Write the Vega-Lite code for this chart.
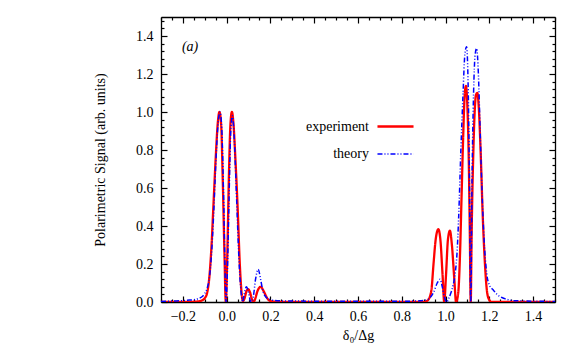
{
  "$schema": "https://vega.github.io/schema/vega-lite/v6.json",
  "width": 394,
  "height": 285,
  "autosize": {"type": "none"},
  "padding": {"left": 161, "top": 17, "right": 26, "bottom": 47},
  "background": "white",
  "config": {
    "view": {"stroke": null},
    "font": "Liberation Serif, Times New Roman, serif",
    "axis": {"domainColor": "black", "domainWidth": 1.3, "tickColor": "black", "tickWidth": 1.2, "labelColor": "black", "titleColor": "black", "labelFont": "Liberation Serif, Times New Roman, serif", "titleFont": "Liberation Serif, Times New Roman, serif", "labelFontSize": 14, "titleFontSize": 14, "titleFontWeight": "normal", "grid": false}
  },
  "resolve": {"axis": {"x": "independent", "y": "independent"}},
  "layer": [
    {
      "data": {"values": [
        {"x": -0.30, "y": 0.0, "series": "experiment"},
        {"x": -0.20, "y": 0.0, "series": "experiment"},
        {"x": -0.13, "y": 0.003, "series": "experiment"},
        {"x": -0.11, "y": 0.01, "series": "experiment"},
        {"x": -0.10, "y": 0.02, "series": "experiment"},
        {"x": -0.09, "y": 0.045, "series": "experiment"},
        {"x": -0.08, "y": 0.12, "series": "experiment"},
        {"x": -0.07, "y": 0.28, "series": "experiment"},
        {"x": -0.06, "y": 0.52, "series": "experiment"},
        {"x": -0.05, "y": 0.76, "series": "experiment"},
        {"x": -0.04, "y": 0.95, "series": "experiment"},
        {"x": -0.033, "y": 1.0, "series": "experiment"},
        {"x": -0.025, "y": 0.93, "series": "experiment"},
        {"x": -0.018, "y": 0.65, "series": "experiment"},
        {"x": -0.01, "y": 0.25, "series": "experiment"},
        {"x": -0.004, "y": 0.0, "series": "experiment"},
        {"x": 0.003, "y": 0.25, "series": "experiment"},
        {"x": 0.01, "y": 0.65, "series": "experiment"},
        {"x": 0.017, "y": 0.93, "series": "experiment"},
        {"x": 0.024, "y": 1.0, "series": "experiment"},
        {"x": 0.031, "y": 0.94, "series": "experiment"},
        {"x": 0.04, "y": 0.75, "series": "experiment"},
        {"x": 0.05, "y": 0.5, "series": "experiment"},
        {"x": 0.06, "y": 0.2, "series": "experiment"},
        {"x": 0.068, "y": 0.05, "series": "experiment"},
        {"x": 0.075, "y": 0.005, "series": "experiment"},
        {"x": 0.082, "y": 0.02, "series": "experiment"},
        {"x": 0.09, "y": 0.055, "series": "experiment"},
        {"x": 0.098, "y": 0.067, "series": "experiment"},
        {"x": 0.107, "y": 0.05, "series": "experiment"},
        {"x": 0.115, "y": 0.015, "series": "experiment"},
        {"x": 0.122, "y": 0.0, "series": "experiment"},
        {"x": 0.13, "y": 0.015, "series": "experiment"},
        {"x": 0.14, "y": 0.055, "series": "experiment"},
        {"x": 0.155, "y": 0.08, "series": "experiment"},
        {"x": 0.17, "y": 0.055, "series": "experiment"},
        {"x": 0.185, "y": 0.02, "series": "experiment"},
        {"x": 0.2, "y": 0.005, "series": "experiment"},
        {"x": 0.25, "y": 0.0, "series": "experiment"},
        {"x": 0.5, "y": 0.0, "series": "experiment"},
        {"x": 0.9, "y": 0.0, "series": "experiment"},
        {"x": 0.92, "y": 0.01, "series": "experiment"},
        {"x": 0.935, "y": 0.06, "series": "experiment"},
        {"x": 0.945, "y": 0.2, "series": "experiment"},
        {"x": 0.955, "y": 0.33, "series": "experiment"},
        {"x": 0.967, "y": 0.383, "series": "experiment"},
        {"x": 0.977, "y": 0.32, "series": "experiment"},
        {"x": 0.986, "y": 0.15, "series": "experiment"},
        {"x": 0.994, "y": 0.0, "series": "experiment"},
        {"x": 1.002, "y": 0.14, "series": "experiment"},
        {"x": 1.011, "y": 0.33, "series": "experiment"},
        {"x": 1.02, "y": 0.375, "series": "experiment"},
        {"x": 1.029, "y": 0.3, "series": "experiment"},
        {"x": 1.04, "y": 0.12, "series": "experiment"},
        {"x": 1.048, "y": 0.0, "series": "experiment"},
        {"x": 1.058, "y": 0.05, "series": "experiment"},
        {"x": 1.066, "y": 0.25, "series": "experiment"},
        {"x": 1.073, "y": 0.55, "series": "experiment"},
        {"x": 1.08, "y": 0.85, "series": "experiment"},
        {"x": 1.087, "y": 1.08, "series": "experiment"},
        {"x": 1.093, "y": 1.137, "series": "experiment"},
        {"x": 1.099, "y": 1.05, "series": "experiment"},
        {"x": 1.106, "y": 0.75, "series": "experiment"},
        {"x": 1.111, "y": 0.35, "series": "experiment"},
        {"x": 1.115, "y": 0.0, "series": "experiment"},
        {"x": 1.119, "y": 0.35, "series": "experiment"},
        {"x": 1.126, "y": 0.75, "series": "experiment"},
        {"x": 1.133, "y": 1.0, "series": "experiment"},
        {"x": 1.139, "y": 1.09, "series": "experiment"},
        {"x": 1.145, "y": 1.1, "series": "experiment"},
        {"x": 1.152, "y": 1.02, "series": "experiment"},
        {"x": 1.16, "y": 0.8, "series": "experiment"},
        {"x": 1.17, "y": 0.45, "series": "experiment"},
        {"x": 1.18, "y": 0.2, "series": "experiment"},
        {"x": 1.19, "y": 0.05, "series": "experiment"},
        {"x": 1.2, "y": 0.01, "series": "experiment"},
        {"x": 1.21, "y": 0.0, "series": "experiment"},
        {"x": 1.5, "y": 0.0, "series": "experiment"},
        {"x": -0.30, "y": 0.003, "series": "theory"},
        {"x": -0.25, "y": 0.005, "series": "theory"},
        {"x": -0.2, "y": 0.007, "series": "theory"},
        {"x": -0.17, "y": 0.01, "series": "theory"},
        {"x": -0.15, "y": 0.012, "series": "theory"},
        {"x": -0.13, "y": 0.018, "series": "theory"},
        {"x": -0.11, "y": 0.03, "series": "theory"},
        {"x": -0.1, "y": 0.045, "series": "theory"},
        {"x": -0.09, "y": 0.07, "series": "theory"},
        {"x": -0.08, "y": 0.12, "series": "theory"},
        {"x": -0.07, "y": 0.24, "series": "theory"},
        {"x": -0.06, "y": 0.45, "series": "theory"},
        {"x": -0.05, "y": 0.72, "series": "theory"},
        {"x": -0.04, "y": 0.93, "series": "theory"},
        {"x": -0.03, "y": 1.0, "series": "theory"},
        {"x": -0.022, "y": 0.9, "series": "theory"},
        {"x": -0.014, "y": 0.55, "series": "theory"},
        {"x": -0.007, "y": 0.15, "series": "theory"},
        {"x": -0.003, "y": 0.0, "series": "theory"},
        {"x": 0.003, "y": 0.15, "series": "theory"},
        {"x": 0.01, "y": 0.5, "series": "theory"},
        {"x": 0.018, "y": 0.88, "series": "theory"},
        {"x": 0.026, "y": 0.98, "series": "theory"},
        {"x": 0.033, "y": 0.9, "series": "theory"},
        {"x": 0.042, "y": 0.65, "series": "theory"},
        {"x": 0.05, "y": 0.4, "series": "theory"},
        {"x": 0.058, "y": 0.18, "series": "theory"},
        {"x": 0.066, "y": 0.05, "series": "theory"},
        {"x": 0.073, "y": 0.0, "series": "theory"},
        {"x": 0.08, "y": 0.04, "series": "theory"},
        {"x": 0.09, "y": 0.08, "series": "theory"},
        {"x": 0.1, "y": 0.05, "series": "theory"},
        {"x": 0.107, "y": 0.01, "series": "theory"},
        {"x": 0.114, "y": 0.0, "series": "theory"},
        {"x": 0.122, "y": 0.03, "series": "theory"},
        {"x": 0.132, "y": 0.12, "series": "theory"},
        {"x": 0.144, "y": 0.172, "series": "theory"},
        {"x": 0.155, "y": 0.12, "series": "theory"},
        {"x": 0.165, "y": 0.06, "series": "theory"},
        {"x": 0.18, "y": 0.025, "series": "theory"},
        {"x": 0.2, "y": 0.012, "series": "theory"},
        {"x": 0.22, "y": 0.008, "series": "theory"},
        {"x": 0.25, "y": 0.006, "series": "theory"},
        {"x": 0.3, "y": 0.005, "series": "theory"},
        {"x": 0.5, "y": 0.004, "series": "theory"},
        {"x": 0.8, "y": 0.004, "series": "theory"},
        {"x": 0.88, "y": 0.006, "series": "theory"},
        {"x": 0.92, "y": 0.015, "series": "theory"},
        {"x": 0.945, "y": 0.05, "series": "theory"},
        {"x": 0.962, "y": 0.1, "series": "theory"},
        {"x": 0.975, "y": 0.12, "series": "theory"},
        {"x": 0.985, "y": 0.08, "series": "theory"},
        {"x": 0.995, "y": 0.025, "series": "theory"},
        {"x": 1.005, "y": 0.0, "series": "theory"},
        {"x": 1.015, "y": 0.02, "series": "theory"},
        {"x": 1.025, "y": 0.05, "series": "theory"},
        {"x": 1.035, "y": 0.09, "series": "theory"},
        {"x": 1.045, "y": 0.16, "series": "theory"},
        {"x": 1.052, "y": 0.25, "series": "theory"},
        {"x": 1.06, "y": 0.45, "series": "theory"},
        {"x": 1.07, "y": 0.8, "series": "theory"},
        {"x": 1.08, "y": 1.1, "series": "theory"},
        {"x": 1.088, "y": 1.3, "series": "theory"},
        {"x": 1.096, "y": 1.344, "series": "theory"},
        {"x": 1.103, "y": 1.15, "series": "theory"},
        {"x": 1.109, "y": 0.65, "series": "theory"},
        {"x": 1.115, "y": 0.0, "series": "theory"},
        {"x": 1.121, "y": 0.65, "series": "theory"},
        {"x": 1.128, "y": 1.1, "series": "theory"},
        {"x": 1.135, "y": 1.3, "series": "theory"},
        {"x": 1.142, "y": 1.335, "series": "theory"},
        {"x": 1.15, "y": 1.2, "series": "theory"},
        {"x": 1.158, "y": 0.9, "series": "theory"},
        {"x": 1.166, "y": 0.6, "series": "theory"},
        {"x": 1.175, "y": 0.35, "series": "theory"},
        {"x": 1.188, "y": 0.15, "series": "theory"},
        {"x": 1.2, "y": 0.09, "series": "theory"},
        {"x": 1.218, "y": 0.063, "series": "theory"},
        {"x": 1.235, "y": 0.04, "series": "theory"},
        {"x": 1.25, "y": 0.028, "series": "theory"},
        {"x": 1.27, "y": 0.018, "series": "theory"},
        {"x": 1.31, "y": 0.007, "series": "theory"},
        {"x": 1.35, "y": 0.006, "series": "theory"},
        {"x": 1.4, "y": 0.004, "series": "theory"},
        {"x": 1.5, "y": 0.003, "series": "theory"}
      ]},
      "mark": {"type": "line", "interpolate": "monotone", "clip": true},
      "encoding": {
        "x": {"field": "x", "type": "quantitative", "scale": {"domain": [-0.3, 1.5], "nice": false, "zero": false},
          "axis": {"orient": "bottom", "values": [-0.2, 0, 0.2, 0.4, 0.6, 0.8, 1.0, 1.2, 1.4], "format": ".1f", "tickSize": -6, "labelPadding": 13, "title": "δ₀/Δg", "titlePadding": 5}},
        "y": {"field": "y", "type": "quantitative", "scale": {"domain": [0, 1.5], "nice": false},
          "axis": {"orient": "left", "values": [0, 0.2, 0.4, 0.6, 0.8, 1.0, 1.2, 1.4], "format": ".1f", "tickSize": -6, "labelPadding": 14, "title": "Polarimetric Signal (arb. units)", "titlePadding": 28}},
        "color": {"field": "series", "type": "nominal", "scale": {"domain": ["experiment", "theory"], "range": ["#ff0000", "#0000ff"]},
          "legend": {"orient": "none", "legendX": 215, "legendY": 90, "title": null, "symbolType": "stroke", "symbolSize": 1300, "labelAlign": "right", "labelOffset": -46, "labelFontSize": 14, "labelFont": "Liberation Serif, Times New Roman, serif", "labelColor": "black", "rowPadding": 1, "padding": 0}},
        "strokeDash": {"field": "series", "type": "nominal", "scale": {"domain": ["experiment", "theory"], "range": [[1, 0], [5, 2, 1, 2, 1, 2]]}},
        "strokeWidth": {"field": "series", "type": "nominal", "scale": {"domain": ["experiment", "theory"], "range": [2.3, 1.5]}}
      }
    },
    {
      "data": {"values": [{"x": -0.167, "y": 1.34, "label": "(a)"}]},
      "mark": {"type": "text", "font": "Liberation Serif, Times New Roman, serif", "fontStyle": "italic", "fontSize": 14, "color": "black"},
      "encoding": {
        "x": {"field": "x", "type": "quantitative", "axis": {"orient": "bottom", "values": [-0.3, -0.25, -0.15, -0.1, -0.05, 0.05, 0.1, 0.15, 0.25, 0.3, 0.35, 0.45, 0.5, 0.55, 0.65, 0.7, 0.75, 0.85, 0.9, 0.95, 1.05, 1.1, 1.15, 1.25, 1.3, 1.35, 1.45, 1.5], "tickSize": -3, "labels": false, "domain": false, "title": null}},
        "y": {"field": "y", "type": "quantitative", "axis": {"orient": "left", "values": [0.04, 0.08, 0.12, 0.16, 0.24, 0.28, 0.32, 0.36, 0.44, 0.48, 0.52, 0.56, 0.64, 0.68, 0.72, 0.76, 0.84, 0.88, 0.92, 0.96, 1.04, 1.08, 1.12, 1.16, 1.24, 1.28, 1.32, 1.36, 1.44, 1.48], "tickSize": -3, "labels": false, "domain": false, "title": null}},
        "text": {"field": "label"}
      }
    },
    {
      "data": {"values": [{"x": -0.167, "y": 1.34, "label": "(a)"}]},
      "mark": {"type": "text", "opacity": 0},
      "encoding": {
        "x": {"field": "x", "type": "quantitative", "axis": {"orient": "top", "values": [-0.2, 0, 0.2, 0.4, 0.6, 0.8, 1.0, 1.2, 1.4], "tickSize": -6, "labels": false, "title": null}},
        "y": {"field": "y", "type": "quantitative", "axis": {"orient": "right", "values": [0, 0.2, 0.4, 0.6, 0.8, 1.0, 1.2, 1.4], "tickSize": -6, "labels": false, "title": null}},
        "text": {"field": "label"}
      }
    },
    {
      "data": {"values": [{"x": -0.167, "y": 1.34, "label": "(a)"}]},
      "mark": {"type": "text", "opacity": 0},
      "encoding": {
        "x": {"field": "x", "type": "quantitative", "axis": {"orient": "top", "values": [-0.3, -0.25, -0.15, -0.1, -0.05, 0.05, 0.1, 0.15, 0.25, 0.3, 0.35, 0.45, 0.5, 0.55, 0.65, 0.7, 0.75, 0.85, 0.9, 0.95, 1.05, 1.1, 1.15, 1.25, 1.3, 1.35, 1.45, 1.5], "tickSize": -3, "labels": false, "domain": false, "title": null}},
        "y": {"field": "y", "type": "quantitative", "axis": {"orient": "right", "values": [0.04, 0.08, 0.12, 0.16, 0.24, 0.28, 0.32, 0.36, 0.44, 0.48, 0.52, 0.56, 0.64, 0.68, 0.72, 0.76, 0.84, 0.88, 0.92, 0.96, 1.04, 1.08, 1.12, 1.16, 1.24, 1.28, 1.32, 1.36, 1.44, 1.48], "tickSize": -3, "labels": false, "domain": false, "title": null}},
        "text": {"field": "label"}
      }
    }
  ]
}
